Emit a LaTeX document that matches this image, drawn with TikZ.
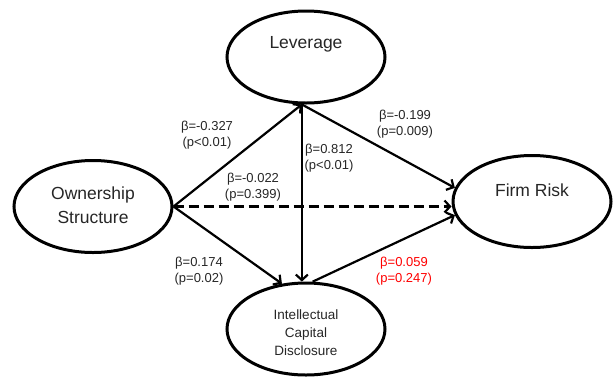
\documentclass[tikz,border=0pt]{standalone}
\usepackage{fontspec}
\setmainfont{Liberation Sans}
\usetikzlibrary{shapes.geometric,arrows.meta,calc}
\begin{document}
\begin{tikzpicture}[x=1pt,y=-1pt,
  ell/.style={ellipse,draw=black,line width=3pt,inner sep=0pt,minimum width=158pt,minimum height=92pt},
  big/.style={font=\fontsize{17.5}{24}\selectfont,align=center,inner sep=0pt,text=black!85},
  small/.style={font=\fontsize{13.5}{18}\selectfont,align=center,inner sep=0pt,text=black!85},
  lbl/.style={font=\fontsize{13}{16}\selectfont,align=center,inner sep=0pt,text=black!85},
  conn/.style={line width=2.2pt,-{Straight Barb[length=5.5pt,width=12pt,line width=2.2pt]}},
  dconn/.style={conn,dash pattern=on 10pt off 5pt}
]
\useasboundingbox (0,0) rectangle (613,376);
\node[ell] (lev) at (306,57) {};
\node[ell] (ows) at (93,206.5) {};
\node[ell] (fr) at (532,201.5) {};
\node[ell] (icd) at (306,329) {};
\node[big] (levt) at (306,44) {Leverage};
\node[big] (owst) at (93,205) {Ownership\\Structure};
\node[big] (frt) at (532,190) {Firm Risk};
\node[small] (icdt) at (306,333) {Intellectual\\Capital\\Disclosure};
\draw[conn] (ows.east) -- (lev.265);
\draw[conn] (lev.265) -- (fr.170);
\draw[conn] (lev.265) -- (icd.95);
\draw[conn] (ows.east) -- (icd.118);
\draw[conn] (icd.82) -- (fr.190);
\draw[dconn] (ows.east) -- (ows.east -| fr.west);
\node[lbl] (l1) at (207,135) {β=-0.327\\(p<0.01)};
\node[lbl] (l2) at (253,187) {β=-0.022\\(p=0.399)};
\node[lbl] (l3) at (329,158) {β=0.812\\(p<0.01)};
\node[lbl] (l4) at (405,124) {β=-0.199\\(p=0.009)};
\node[lbl] (l5) at (199,271) {β=0.174\\(p=0.02)};
\node[lbl,text=red] (l6) at (404,271) {β=0.059\\(p=0.247)};
\end{tikzpicture}
\end{document}
